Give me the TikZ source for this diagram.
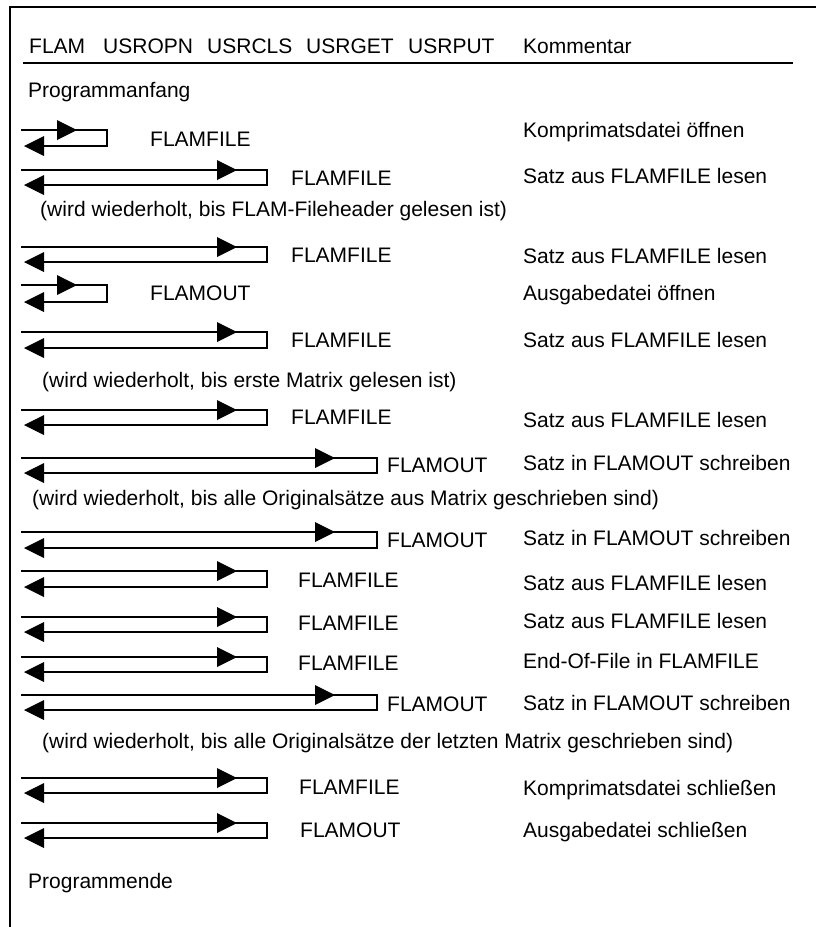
\documentclass[tikz,border=0pt]{standalone}
\usepackage{fontspec}
\setmainfont{Liberation Sans}
\usetikzlibrary{calc}
\tikzset{
  txt/.style={anchor=base west, inner sep=0pt, font=\fontsize{21}{25}\selectfont},
  flow/.style={line width=1.5pt, line join=miter},
  headtip/.style={fill=black, draw=none},
  framel/.style={line width=2pt},
}
\newcommand\callrow[5]{%
  \coordinate (#1a) at (21,#2);
  \coordinate (#1b) at (#4,#2);
  \coordinate (#1c) at (#4,#3);
  \coordinate (#1d) at (24,#3);
  \coordinate (#1h) at (#5,#2);
  \draw[flow] (#1a) -- (#1b) -- (#1c) -- ($(#1d)+(10,0)$);
  \fill[headtip] (#1h) -- ++(-20,-10) -- ++(0,20) -- cycle;
  \fill[headtip] (#1d) -- ++(20,-10) -- ++(0,20) -- cycle;
}
\newcommand\rowtext[6]{%
  \node[txt] (#1l) at (#2,#3) {#4};
  \node[txt] (#1k) at (523,#5) {#6};
}
\begin{document}
\begin{tikzpicture}[x=1pt,y=-1pt]
\useasboundingbox (0,0) rectangle (816,927);
\fill[white] (0,0) rectangle (816,927);
% frame
\coordinate (fTL) at (10,7);
\coordinate (fTR) at (816,7);
\coordinate (fBL) at (10,927);
\draw[framel] (fTR) -- (fTL) -- (fBL);
% header
\node[txt] (hFLAM) at (29,53) {FLAM};
\node[txt] (hOPN) at (103,53) {USROPN};
\node[txt] (hCLS) at (207,53) {USRCLS};
\node[txt] (hGET) at (306,53) {USRGET};
\node[txt] (hPUT) at (408,53) {USRPUT};
\node[txt] (hKom) at (523,53) {Kommentar};
\coordinate (uL) at (23,63);
\coordinate (uR) at (793,63);
\draw[framel] (uL) -- (uR);
\node[txt] (start) at (28,97) {Programmanfang};
% rows
\callrow{r1}{130}{146}{107}{77}
\rowtext{r1}{150}{146}{FLAMFILE}{137}{Komprimatsdatei öffnen}
\callrow{r2}{170}{185}{267}{237}
\rowtext{r2}{291}{185}{FLAMFILE}{183}{Satz aus FLAMFILE lesen}
\node[txt] (w1) at (40,216) {(wird wiederholt, bis FLAM-Fileheader gelesen ist)};
\callrow{r3}{247}{262}{267}{237}
\rowtext{r3}{291}{262}{FLAMFILE}{263}{Satz aus FLAMFILE lesen}
\callrow{r4}{285}{302}{107}{77}
\rowtext{r4}{150}{300}{FLAMOUT}{300}{Ausgabedatei öffnen}
\callrow{r5}{332}{348}{267}{237}
\rowtext{r5}{291}{347}{FLAMFILE}{347}{Satz aus FLAMFILE lesen}
\node[txt] (w2) at (42,387) {(wird wiederholt, bis erste Matrix gelesen ist)};
\callrow{r6}{410}{425}{267}{237}
\rowtext{r6}{291}{424}{FLAMFILE}{427}{Satz aus FLAMFILE lesen}
\callrow{r7}{458}{473}{377}{335}
\rowtext{r7}{387}{472}{FLAMOUT}{470}{Satz in FLAMOUT schreiben}
\node[txt] (w3) at (32,505) {(wird wiederholt, bis alle Originalsätze aus Matrix geschrieben sind)};
\callrow{r8}{532}{548}{377}{335}
\rowtext{r8}{387}{547}{FLAMOUT}{545}{Satz in FLAMOUT schreiben}
\callrow{r9}{571}{587}{267}{237}
\rowtext{r9}{298}{587}{FLAMFILE}{590}{Satz aus FLAMFILE lesen}
\callrow{r10}{617}{632}{267}{237}
\rowtext{r10}{298}{630}{FLAMFILE}{628}{Satz aus FLAMFILE lesen}
\callrow{r11}{657}{672}{267}{237}
\rowtext{r11}{298}{670}{FLAMFILE}{668}{End-Of-File in FLAMFILE}
\callrow{r12}{695}{710}{377}{335}
\rowtext{r12}{387}{711}{FLAMOUT}{710}{Satz in FLAMOUT schreiben}
\node[txt] (w4) at (42,748) {(wird wiederholt, bis alle Originalsätze der letzten Matrix geschrieben sind)};
\callrow{r13}{778}{793}{267}{237}
\rowtext{r13}{299}{794}{FLAMFILE}{795}{Komprimatsdatei schließen}
\callrow{r14}{823}{838}{267}{237}
\rowtext{r14}{300}{837}{FLAMOUT}{837}{Ausgabedatei schließen}
\node[txt] (ende) at (28,888) {Programmende};
\end{tikzpicture}
\end{document}
